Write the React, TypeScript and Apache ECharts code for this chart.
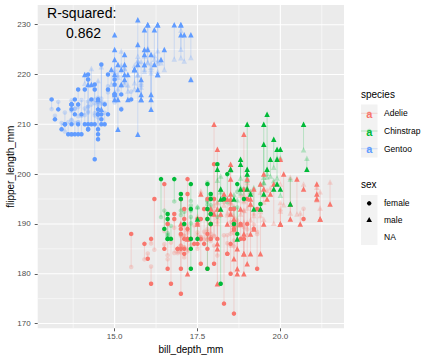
import { useEffect, useRef } from "react";
import * as echarts from "echarts";

// [bill_length_mm, bill_depth_mm, flipper_length_mm, body_mass_g, sex]
type Row = [number, number, number, number, string];

const adelie: Row[] = [
  [39.1,18.7,181,3750,"m"],[39.5,17.4,186,3800,"f"],[40.3,18.0,195,3250,"f"],[36.7,19.3,193,3450,"f"],
  [39.3,20.6,190,3650,"m"],[38.9,17.8,181,3625,"f"],[39.2,19.6,195,4675,"m"],[34.1,18.1,193,3475,"NA"],
  [42.0,20.2,190,4250,"NA"],[37.8,17.1,186,3300,"NA"],[37.8,17.3,180,3700,"NA"],[41.1,17.6,182,3200,"f"],
  [38.6,21.2,191,3800,"m"],[34.6,21.1,198,4400,"m"],[36.6,17.8,185,3700,"f"],[38.7,19.0,195,3450,"f"],
  [42.5,20.7,197,4500,"m"],[34.4,18.4,184,3325,"f"],[46.0,21.5,194,4200,"m"],[37.8,18.3,174,3400,"f"],
  [37.7,18.7,180,3600,"m"],[35.9,19.2,189,3800,"f"],[38.2,18.1,185,3950,"m"],[38.8,17.2,180,3800,"m"],
  [35.3,18.9,187,3800,"f"],[40.6,18.6,183,3550,"m"],[40.5,17.9,187,3200,"f"],[37.9,18.6,172,3150,"f"],
  [40.5,18.9,180,3950,"m"],[39.5,16.7,178,3250,"f"],[37.2,18.1,178,3900,"m"],[39.5,17.8,188,3300,"f"],
  [40.9,18.9,184,3900,"m"],[36.4,17.0,195,3325,"f"],[39.2,21.1,196,4150,"m"],[38.8,20.0,190,3950,"m"],
  [42.2,18.5,180,3550,"f"],[37.6,19.3,181,3300,"f"],[39.8,19.1,184,4650,"m"],[36.5,18.0,182,3150,"f"],
  [40.8,18.4,195,3900,"m"],[36.0,18.5,186,3100,"f"],[44.1,19.7,196,4400,"m"],[37.0,16.9,185,3000,"f"],
  [39.6,18.8,190,4600,"m"],[41.1,19.0,182,3425,"m"],[37.5,18.9,179,2975,"NA"],[36.0,17.9,190,3450,"f"],
  [42.3,21.2,191,4150,"m"],[39.6,17.7,186,3500,"f"],[40.1,18.9,188,4300,"m"],[35.0,17.9,190,3450,"f"],
  [42.0,19.5,200,4050,"m"],[34.5,18.1,187,2900,"f"],[41.4,18.6,191,3700,"m"],[39.0,17.5,186,3550,"f"],
  [40.6,18.8,193,3800,"m"],[36.5,16.6,181,2850,"f"],[37.6,19.1,194,3750,"m"],[35.7,16.9,185,3150,"f"],
  [41.3,21.1,195,4400,"m"],[37.6,17.0,185,3600,"f"],[41.1,18.2,192,4050,"m"],[36.4,17.1,184,2850,"f"],
  [41.6,18.0,192,3950,"m"],[35.5,16.2,195,3350,"f"],[41.1,19.1,188,4100,"m"],[35.9,16.6,190,3050,"f"],
  [41.8,19.4,198,4450,"m"],[33.5,19.0,190,3600,"f"],[39.7,18.4,190,3900,"m"],[39.6,17.2,196,3550,"f"],
  [45.8,18.9,197,4150,"m"],[35.5,17.5,190,3700,"f"],[42.8,18.5,195,4250,"m"],[40.9,16.8,191,3700,"f"],
  [37.2,19.4,184,3900,"m"],[36.2,16.1,187,3550,"f"],[42.1,19.1,195,4000,"m"],[34.6,17.2,189,3200,"f"],
  [42.9,17.6,196,4700,"m"],[36.7,18.8,187,3800,"f"],[35.1,19.4,193,4200,"m"],[37.3,17.8,191,3350,"f"],
  [41.3,20.3,194,3550,"m"],[36.3,19.5,190,3800,"m"],[36.9,18.6,189,3500,"f"],[38.3,19.2,189,3950,"m"],
  [38.9,18.8,190,3600,"f"],[35.7,18.0,202,3550,"f"],[41.1,18.1,205,4300,"m"],[34.0,17.1,185,3400,"f"],
  [39.6,18.1,186,4450,"m"],[36.2,17.3,187,3300,"f"],[40.8,18.9,208,4300,"m"],[38.1,18.6,190,3700,"f"],
  [40.3,18.5,196,4350,"m"],[33.1,16.1,178,2900,"f"],[43.2,18.5,192,4100,"m"],[35.0,17.9,192,3725,"f"],
  [41.0,20.0,203,4725,"m"],[37.7,16.0,183,3075,"f"],[37.8,20.0,190,4250,"m"],[37.9,18.6,193,2925,"f"],
  [39.7,18.9,184,3550,"m"],[38.6,17.2,199,3750,"f"],[38.2,20.0,190,3900,"m"],[38.1,17.0,181,3175,"f"],
  [43.2,19.0,197,4775,"m"],[38.1,16.5,198,3825,"f"],[45.6,20.3,191,4600,"m"],[39.7,17.7,193,3200,"f"],
  [42.2,19.5,197,4275,"m"],[39.6,20.7,191,3900,"f"],[42.7,18.3,196,4075,"m"],[38.6,17.0,188,2900,"f"],
  [37.3,20.5,199,3775,"m"],[35.7,17.0,189,3350,"f"],[41.1,18.6,189,3325,"m"],[36.2,17.2,187,3150,"f"],
  [37.7,19.8,198,3500,"m"],[40.2,17.0,176,3450,"f"],[41.4,18.5,202,3875,"m"],[35.2,15.9,186,3050,"f"],
  [40.6,19.0,199,4000,"m"],[38.8,17.6,191,3275,"f"],[41.5,18.3,195,4300,"m"],[39.0,17.1,191,3050,"f"],
  [44.1,18.0,210,4000,"m"],[38.5,17.9,190,3325,"f"],[43.1,19.2,197,3500,"m"],[36.8,18.5,193,3500,"f"],
  [37.5,18.5,199,4475,"m"],[38.1,17.6,187,3425,"f"],[41.1,17.5,190,3900,"m"],[35.6,17.5,191,3175,"f"],
  [40.2,20.1,200,3975,"m"],[37.0,16.5,185,3400,"f"],[39.7,17.9,193,4250,"m"],[40.2,17.1,193,3400,"f"],
  [40.6,17.2,187,3475,"m"],[32.1,15.5,188,3050,"f"],[40.7,17.0,190,3725,"m"],[37.3,16.8,192,3000,"f"],
  [39.0,18.7,185,3650,"m"],[39.2,18.6,190,4250,"m"],[36.6,18.4,184,3475,"f"],[36.0,17.8,195,3450,"f"],
  [37.8,18.1,193,3750,"m"],[36.0,17.1,187,3700,"f"],[41.5,18.5,201,4000,"m"],
];

const gentoo: Row[] = [
  [46.1,13.2,211,4500,"f"],[50.0,16.3,230,5700,"m"],[48.7,14.1,210,4450,"f"],[50.0,15.2,218,5700,"m"],
  [47.6,14.5,215,5400,"m"],[46.5,13.5,210,4550,"f"],[45.4,14.6,211,4800,"f"],[46.7,15.3,219,5200,"m"],
  [43.3,13.4,209,4400,"f"],[46.8,15.4,215,5150,"m"],[40.9,13.7,214,4650,"f"],[49.0,16.1,216,5550,"m"],
  [45.5,13.7,214,4650,"f"],[48.4,14.6,213,5850,"m"],[45.8,14.6,210,4200,"f"],[49.3,15.7,217,5850,"m"],
  [42.0,13.5,210,4150,"f"],[49.2,15.2,221,6300,"m"],[46.2,14.5,209,4800,"f"],[48.7,15.1,222,5350,"m"],
  [50.2,14.3,218,5700,"m"],[45.1,14.5,215,5000,"f"],[46.5,14.5,213,4400,"f"],[46.3,15.8,215,5050,"m"],
  [42.9,13.1,215,5000,"f"],[46.1,15.1,215,5100,"m"],[44.5,14.3,216,4100,"NA"],[47.8,15.0,215,5650,"m"],
  [48.2,14.3,210,4600,"f"],[50.0,15.3,220,5550,"m"],[47.3,15.3,222,5250,"m"],[42.8,14.2,209,4700,"f"],
  [45.1,14.5,207,5050,"f"],[59.6,17.0,230,6050,"m"],[49.1,14.8,220,5150,"f"],[48.4,16.3,220,5400,"m"],
  [42.6,13.7,213,4950,"f"],[44.4,17.3,219,5250,"m"],[44.0,13.6,208,4350,"f"],[48.7,15.7,208,5350,"m"],
  [42.7,13.7,208,3950,"f"],[49.6,16.0,225,5700,"m"],[45.3,13.7,210,4300,"f"],[49.6,15.0,216,4750,"m"],
  [50.5,15.9,222,5550,"m"],[43.6,13.9,217,4900,"f"],[45.5,13.9,210,4200,"f"],[50.5,15.9,225,5400,"m"],
  [44.9,13.3,213,5100,"f"],[45.2,15.8,215,5300,"m"],[46.6,14.2,210,4850,"f"],[48.5,14.1,220,5300,"m"],
  [45.1,14.4,210,4400,"f"],[50.1,15.0,225,5000,"m"],[46.5,14.4,217,4900,"f"],[45.0,15.4,220,5050,"m"],
  [43.8,13.9,208,4300,"f"],[45.5,15.0,220,5000,"m"],[43.2,14.5,208,4450,"f"],[50.4,15.3,224,5550,"m"],
  [45.3,13.8,208,4200,"f"],[46.2,14.9,221,5300,"m"],[45.7,13.9,214,4400,"f"],[54.3,15.7,231,5650,"m"],
  [45.8,14.2,219,4700,"f"],[49.8,16.8,230,5700,"m"],[46.2,14.4,214,4650,"NA"],[49.5,16.2,229,5800,"m"],
  [43.5,14.2,220,4700,"f"],[50.7,15.0,223,5550,"m"],[47.7,15.0,216,4750,"f"],[46.4,15.6,221,5000,"m"],
  [48.2,15.6,221,5100,"m"],[46.5,14.8,217,5200,"f"],[46.4,15.0,216,4700,"f"],[48.6,16.0,230,5800,"m"],
  [47.5,14.2,209,4600,"f"],[51.1,16.3,220,6000,"m"],[45.2,13.8,215,4750,"f"],[45.2,16.4,223,5950,"m"],
  [49.1,14.5,212,4625,"f"],[52.5,15.6,221,5450,"m"],[47.4,14.6,212,4725,"f"],[50.0,15.9,224,5350,"m"],
  [44.9,13.8,212,4750,"f"],[50.8,17.3,228,5600,"m"],[43.4,14.4,218,4600,"f"],[51.3,14.2,218,5300,"m"],
  [47.5,14.0,212,4875,"f"],[52.1,17.0,230,5550,"m"],[47.5,15.0,218,4950,"f"],[52.2,17.1,228,5400,"m"],
  [45.5,14.5,212,4750,"f"],[49.5,16.1,224,5650,"m"],[44.5,14.7,214,4850,"f"],[50.8,15.7,226,5200,"m"],
  [49.4,15.8,216,4925,"m"],[46.9,14.6,222,4875,"f"],[48.4,14.4,203,4625,"f"],[51.1,16.5,225,5250,"m"],
  [48.5,15.0,219,4850,"f"],[55.9,17.0,228,5600,"m"],[47.2,15.5,215,4975,"f"],[49.1,15.0,228,5500,"m"],
  [47.3,13.8,216,4725,"NA"],[46.8,16.1,215,5500,"m"],[41.7,14.7,210,4700,"f"],[53.4,15.8,219,5500,"m"],
  [43.3,14.0,208,4575,"f"],[48.1,15.1,209,5500,"m"],[50.5,15.2,216,5000,"f"],[49.8,15.9,229,5950,"m"],
  [43.5,15.2,213,4650,"f"],[51.5,16.3,230,5500,"m"],[46.2,14.1,217,4375,"f"],[55.1,16.0,230,5850,"m"],
  [44.5,15.7,217,4875,"NA"],[48.8,16.2,222,6000,"m"],[47.2,13.7,214,4925,"f"],[46.8,14.3,215,4850,"f"],
  [50.4,15.7,222,5750,"m"],[45.2,14.8,212,5200,"f"],[49.9,16.1,213,5400,"m"],
];

const chinstrap: Row[] = [
  [46.5,17.9,192,3500,"f"],[50.0,19.5,196,3900,"m"],[51.3,19.2,193,3650,"m"],[45.4,18.7,188,3525,"f"],
  [52.7,19.8,197,3725,"m"],[45.2,17.8,198,3950,"f"],[46.1,18.2,178,3250,"f"],[51.3,18.2,197,3750,"m"],
  [46.0,18.9,195,4150,"f"],[51.3,19.9,198,3700,"m"],[46.6,17.8,193,3800,"f"],[51.7,20.3,194,3775,"m"],
  [47.0,17.3,185,3700,"f"],[52.0,18.1,201,4050,"m"],[45.9,17.1,190,3575,"f"],[50.5,19.6,201,4050,"m"],
  [50.3,20.0,197,3300,"m"],[58.0,17.8,181,3700,"f"],[46.4,18.6,190,3450,"f"],[49.2,18.2,195,4400,"m"],
  [42.4,17.3,181,3600,"f"],[48.5,17.5,191,3400,"m"],[43.2,16.6,187,2900,"f"],[50.6,19.4,193,3800,"m"],
  [46.7,17.9,195,3300,"f"],[52.0,19.0,197,4150,"m"],[50.5,18.4,200,3400,"f"],[49.5,19.0,200,3800,"m"],
  [46.4,17.8,191,3700,"f"],[52.8,20.0,205,4550,"m"],[40.9,16.6,187,3200,"f"],[54.2,20.8,201,4300,"m"],
  [42.5,16.7,187,3350,"f"],[51.0,18.8,203,4100,"m"],[49.7,18.6,195,3600,"m"],[47.5,16.8,199,3900,"f"],
  [47.6,18.3,195,3850,"f"],[52.0,20.7,210,4800,"m"],[46.9,16.6,192,2700,"f"],[53.5,19.9,205,4500,"m"],
  [49.0,19.5,210,3950,"m"],[46.2,17.5,187,3650,"f"],[50.9,19.1,196,3550,"m"],[45.5,17.0,196,3500,"f"],
  [50.9,17.9,196,3675,"f"],[50.8,18.5,201,4450,"m"],[50.1,17.9,190,3400,"f"],[49.0,19.6,212,4300,"m"],
  [51.5,18.7,187,3250,"m"],[49.8,17.3,198,3675,"f"],[48.1,16.4,199,3325,"f"],[51.4,19.0,201,3950,"m"],
  [45.7,17.3,193,3600,"f"],[50.7,19.7,203,4050,"m"],[42.5,17.3,187,3350,"f"],[52.2,18.8,197,3450,"m"],
  [45.2,16.6,191,3250,"f"],[49.3,19.9,203,4050,"m"],[50.2,18.8,202,3800,"m"],[45.6,19.4,194,3525,"f"],
  [51.9,19.5,206,3950,"m"],[46.8,16.5,189,3650,"f"],[45.7,17.0,195,3650,"f"],[55.8,19.8,207,4000,"m"],
  [43.5,18.1,202,3400,"f"],[49.6,18.2,193,3775,"m"],[50.8,19.0,210,4100,"m"],[50.2,18.7,198,3775,"f"],
];

const speciesNames = ["Adelie", "Chinstrap", "Gentoo"];
const speciesColors = ["#F8766D", "#00BA38", "#619CFF"];
const sexLevels = ["female", "male", "NA"];
const xTicks = [15, 17.5, 20];
const xMinor = [13.75, 16.25, 18.75, 21.25];
const yTicks = [170, 180, 190, 200, 210, 220, 230];
const yMinor = [175, 185, 195, 205, 215, 225];
const rSquaredLines = ["R-squared:", "0.862"];

const X_MIN = 12.68, X_MAX = 21.92, Y_MIN = 169.05, Y_MAX = 233.95;
const FONT = "'Liberation Sans', Arial, Helvetica, sans-serif";

// Linear model: flipper ~ bill_length + bill_depth + body_mass + species + sex
function features(r: Row, si: number): number[] {
  return [1, r[0], r[1], r[3] / 1000, si === 1 ? 1 : 0, si === 2 ? 1 : 0, r[4] === "m" ? 1 : 0];
}
function fitModel(groups: Row[][]) {
  const p = 7;
  const A = Array.from({ length: p }, () => new Array(p + 1).fill(0));
  groups.forEach((rows, si) =>
    rows.forEach((r) => {
      if (r[4] === "NA") return;
      const f = features(r, si);
      for (let j = 0; j < p; j++) {
        for (let k = 0; k < p; k++) A[j][k] += f[j] * f[k];
        A[j][p] += f[j] * r[2];
      }
    })
  );
  for (let c = 0; c < p; c++) {
    let piv = c;
    for (let r = c + 1; r < p; r++) if (Math.abs(A[r][c]) > Math.abs(A[piv][c])) piv = r;
    [A[c], A[piv]] = [A[piv], A[c]];
    for (let r = 0; r < p; r++) {
      if (r === c) continue;
      const fct = A[r][c] / A[c][c];
      for (let k = c; k <= p; k++) A[r][k] -= fct * A[c][k];
    }
  }
  const beta = A.map((row, i) => row[p] / row[i]);
  return (r: Row, si: number) => features(r, si).reduce((s, v, i) => s + v * beta[i], 0);
}

export default function App() {
  const ref = useRef<HTMLDivElement>(null);
  useEffect(() => {
    if (!ref.current) return;
    const chart = echarts.init(ref.current, undefined, { renderer: "svg" });
    const groups = [adelie, chinstrap, gentoo];
    const predict = fitModel(groups);
    const drawOrder = [0, 2, 1]; // data order: Adelie, Gentoo, Chinstrap

    const gridData: number[][] = [
      ...xMinor.map((v) => [v, 0, 0]),
      ...yMinor.map((v) => [v, 1, 0]),
      ...xTicks.map((v) => [v, 0, 1]),
      ...yTicks.map((v) => [v, 1, 1]),
    ];

    const series: any[] = [
      {
        type: "custom",
        z: 0,
        silent: true,
        data: gridData,
        renderItem: (_p: any, api: any) => {
          const v = api.value(0), o = api.value(1), major = api.value(2);
          const a = o === 0 ? api.coord([v, Y_MIN]) : api.coord([X_MIN, v]);
          const b = o === 0 ? api.coord([v, Y_MAX]) : api.coord([X_MAX, v]);
          return {
            type: "line",
            shape: { x1: a[0], y1: a[1], x2: b[0], y2: b[1] },
            style: { stroke: "#FFFFFF", lineWidth: major ? 1.1 : 0.55 },
          };
        },
      },
    ];

    drawOrder.forEach((si) => {
      const rows = groups[si].filter((r) => r[4] !== "NA");
      const color = speciesColors[si];
      series.push({
        type: "custom",
        z: 1,
        silent: true,
        data: rows.map((r) => [r[1], r[2], predict(r, si)]),
        renderItem: (_p: any, api: any) => {
          const a = api.coord([api.value(0), api.value(1)]);
          const b = api.coord([api.value(0), api.value(2)]);
          return {
            type: "line",
            shape: { x1: a[0], y1: a[1], x2: b[0], y2: b[1] },
            style: { stroke: color, opacity: 0.22, lineWidth: 1 },
          };
        },
      });
    });
    drawOrder.forEach((si) => {
      const rows = groups[si].filter((r) => r[4] !== "NA");
      series.push({
        type: "scatter",
        z: 2,
        silent: true,
        itemStyle: { color: speciesColors[si], opacity: 0.25 },
        data: rows.map((r) => ({
          value: [r[1], predict(r, si)],
          symbol: r[4] === "m" ? "triangle" : "circle",
          symbolSize: r[4] === "m" ? 5.5 : 4.5,
        })),
      });
    });
    drawOrder.forEach((si) => {
      const rows = groups[si].filter((r) => r[4] !== "NA");
      series.push({
        type: "scatter",
        z: 3,
        silent: true,
        itemStyle: { color: speciesColors[si], opacity: 1 },
        data: rows.map((r) => ({
          value: [r[1], r[2]],
          symbol: r[4] === "m" ? "triangle" : "circle",
          symbolSize: r[4] === "m" ? 5.5 : 4.5,
        })),
      });
    });

    const graphic: any[] = [
      { type: "text", x: 81.7, y: 12.5, z: 100, style: { text: rSquaredLines[0], font: `14px ${FONT}`, fill: "#000", align: "center", verticalAlign: "middle" } },
      { type: "text", x: 83.5, y: 32.5, z: 100, style: { text: rSquaredLines[1], font: `14px ${FONT}`, fill: "#000", align: "center", verticalAlign: "middle" } },
      { type: "text", x: 190.9, y: 349.5, style: { text: "bill_depth_mm", font: `10px ${FONT}`, fill: "#000", align: "center", verticalAlign: "middle" } },
      { type: "text", x: 10, y: 166.7, rotation: Math.PI / 2, style: { text: "flipper_length_mm", font: `10px ${FONT}`, fill: "#000", align: "center", verticalAlign: "middle" } },
      { type: "text", x: 361, y: 94.3, style: { text: "species", font: `10px ${FONT}`, fill: "#000", align: "left", verticalAlign: "middle" } },
      { type: "text", x: 361, y: 184, style: { text: "sex", font: `10px ${FONT}`, fill: "#000", align: "left", verticalAlign: "middle" } },
      { type: "rect", shape: { x: 361, y: 104.5, width: 16.5, height: 53 }, style: { fill: "#F2F2F2" } },
      { type: "rect", shape: { x: 361, y: 195, width: 16.5, height: 50 }, style: { fill: "#F2F2F2" } },
    ];
    speciesNames.forEach((name, i) => {
      const cy = 113.3 + i * 17.7;
      graphic.push(
        { type: "line", shape: { x1: 361, y1: cy, x2: 377.5, y2: cy }, style: { stroke: speciesColors[i], opacity: 0.25, lineWidth: 1 } },
        { type: "circle", shape: { cx: 369.2, cy, r: 2.2 }, style: { fill: speciesColors[i], opacity: 0.25 } },
        { type: "text", x: 369.2, y: cy + 0.5, style: { text: "a", font: `bold 11px ${FONT}`, fill: speciesColors[i], align: "center", verticalAlign: "middle" } },
        { type: "text", x: 384, y: cy, style: { text: name, font: `8.5px ${FONT}`, fill: "#000", align: "left", verticalAlign: "middle" } }
      );
    });
    sexLevels.forEach((name, i) => {
      const cy = 203.3 + i * 16.7;
      if (i === 0) graphic.push({ type: "circle", shape: { cx: 369.2, cy, r: 2.2 }, style: { fill: "#000" } });
      if (i === 1) graphic.push({ type: "polygon", shape: { points: [[369.2, cy - 3], [372, cy + 2], [366.4, cy + 2]] }, style: { fill: "#000" } });
      graphic.push({ type: "text", x: 384, y: cy, style: { text: name, font: `8.5px ${FONT}`, fill: "#000", align: "left", verticalAlign: "middle" } });
    });

    chart.setOption({
      animation: false,
      backgroundColor: "#FFFFFF",
      grid: { left: 37.7, top: 5, width: 306.3, height: 323.3, show: true, backgroundColor: "#EBEBEB", borderWidth: 0 },
      xAxis: {
        type: "value",
        min: X_MIN,
        max: X_MAX,
        axisLine: { show: false },
        splitLine: { show: false },
        axisTick: { show: true, customValues: xTicks, length: 3, lineStyle: { color: "#333333", width: 0.8 } },
        axisLabel: { customValues: xTicks, formatter: (v: number) => v.toFixed(1), color: "#4D4D4D", fontSize: 8, fontFamily: FONT, margin: 4 },
      },
      yAxis: {
        type: "value",
        min: Y_MIN,
        max: Y_MAX,
        axisLine: { show: false },
        splitLine: { show: false },
        axisTick: { show: true, customValues: yTicks, length: 3, lineStyle: { color: "#333333", width: 0.8 } },
        axisLabel: { customValues: yTicks, formatter: (v: number) => String(v), color: "#4D4D4D", fontSize: 8, fontFamily: FONT, margin: 7 },
      },
      series,
      graphic,
    });
    return () => chart.dispose();
  }, []);
  return <div ref={ref} style={{ position: "fixed", left: 0, top: 0, width: 432, height: 360 }} />;
}
